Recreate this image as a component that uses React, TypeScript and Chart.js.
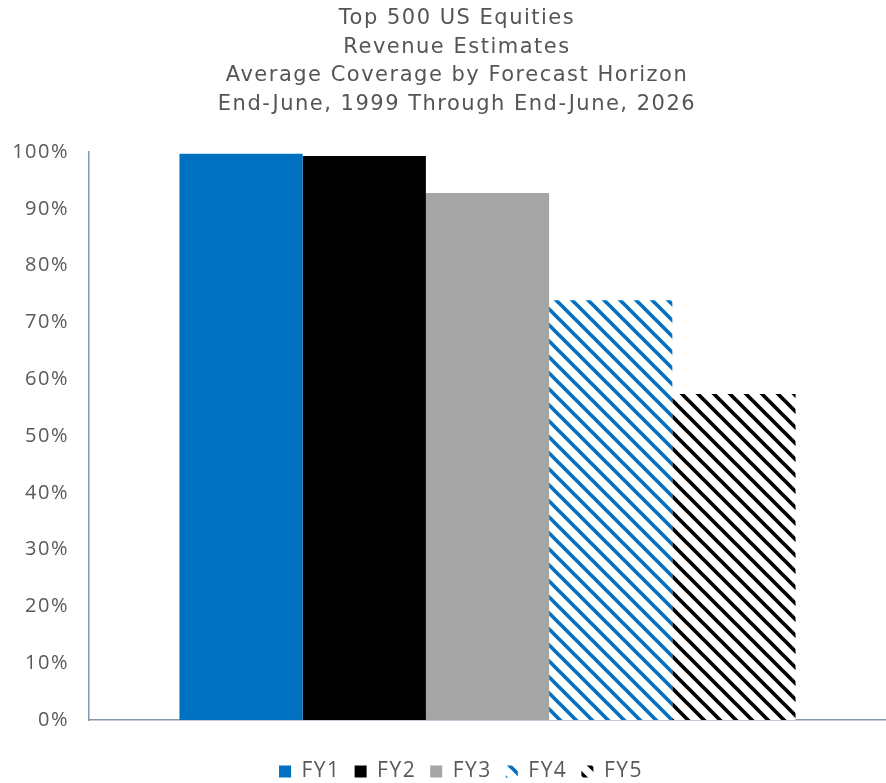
import React, { useEffect, useRef } from "react";
import { Chart, registerables } from "chart.js";

Chart.register(...registerables);

const titleLines = [
  "Top 500 US Equities",
  "Revenue Estimates",
  "Average Coverage by Forecast Horizon",
  "End-June, 1999 Through End-June, 2026",
];
const categories = [""];
const seriesNames = ["FY1", "FY2", "FY3", "FY4", "FY5"];
const seriesValues = [99.7, 99.3, 92.8, 73.9, 57.4];
const seriesColors = ["#0070C0", "#000000", "#A5A5A5", "#0070C0", "#000000"];
const seriesHatched = [false, false, false, true, true];

function makeHatch(color: string): CanvasPattern | string {
  const size = 16;
  const c = document.createElement("canvas");
  c.width = size;
  c.height = size;
  const ctx = c.getContext("2d");
  if (!ctx) return color;
  ctx.fillStyle = "#ffffff";
  ctx.fillRect(0, 0, size, size);
  ctx.strokeStyle = color;
  ctx.lineWidth = 3.7;
  ctx.lineCap = "square";
  ctx.beginPath();
  ctx.moveTo(-size, -size);
  ctx.lineTo(2 * size, 2 * size);
  ctx.moveTo(-size, 0);
  ctx.lineTo(size, 2 * size);
  ctx.moveTo(0, -size);
  ctx.lineTo(2 * size, size);
  ctx.stroke();
  const p = ctx.createPattern(c, "repeat");
  return p || color;
}

const spacingPlugin = {
  id: "letterSpacing",
  beforeUpdate(chart: any) {
    chart.ctx.letterSpacing = "1.5px";
  },
  afterLayout(chart: any) {
    // centre title and legend over the same band as the original figure
    if (chart.titleBlock) chart.titleBlock.left = 28;
    if (chart.legend) chart.legend.left = 36;
  },
  beforeDraw(chart: any) {
    chart.ctx.letterSpacing = "1.5px";
  },
};

export default function App() {
  const ref = useRef<HTMLCanvasElement | null>(null);
  useEffect(() => {
    if (!ref.current) return;
    const font = "'Open Sans', 'Lato', sans-serif";
    const titleFont = "'DejaVu Sans', 'Open Sans', sans-serif";
    const datasets = seriesNames.map((name, i) => ({
      label: name,
      data: [seriesValues[i]],
      backgroundColor: seriesHatched[i] ? makeHatch(seriesColors[i]) : seriesColors[i],
      borderWidth: 0,
      barPercentage: 1,
      categoryPercentage: 0.773,
    }));
    const chart = new Chart(ref.current, {
      type: "bar",
      data: { labels: categories, datasets },
      plugins: [spacingPlugin],
      options: {
        animation: false,
        responsive: false,
        maintainAspectRatio: false,
        layout: { padding: { left: 0, right: 28, top: 0, bottom: 0 } },
        plugins: {
          title: {
            display: true,
            text: titleLines,
            color: "#555555",
            font: { family: titleFont, size: 21, weight: "normal", lineHeight: 1.37 },
            padding: { top: 4, bottom: 33 },
          },
          legend: {
            position: "bottom",
            labels: {
              boxWidth: 12,
              boxHeight: 12,
              color: "#595959",
              font: { family: font, size: 21, lineHeight: 0.6 },
              padding: 14,
            },
          },
          tooltip: { enabled: false },
        },
        scales: {
          x: {
            grid: { display: false },
            border: { color: "#8496B0", width: 1.5 },
            ticks: { display: false },
            afterFit: (scale: any) => {
              scale.height = 27;
            },
          },
          y: {
            min: 0,
            max: 100,
            grid: { display: false },
            border: { color: "#8496B0", width: 1.5 },
            ticks: {
              stepSize: 10,
              color: "#595959",
              padding: 12,
              font: { family: font, size: 20 },
              callback: (v: any) => v + "%",
            },
            afterFit: (scale: any) => {
              scale.width = 89;
            },
          },
        },
      },
    });
    return () => chart.destroy();
  }, []);
  return (
    <div
      style={{
        position: "absolute",
        left: 0,
        top: 0,
        width: 886,
        height: 783,
        overflow: "hidden",
        background: "#ffffff",
      }}
    >
      <canvas ref={ref} width={914} height={792} style={{ width: 914, height: 792, display: "block" }} />
    </div>
  );
}
